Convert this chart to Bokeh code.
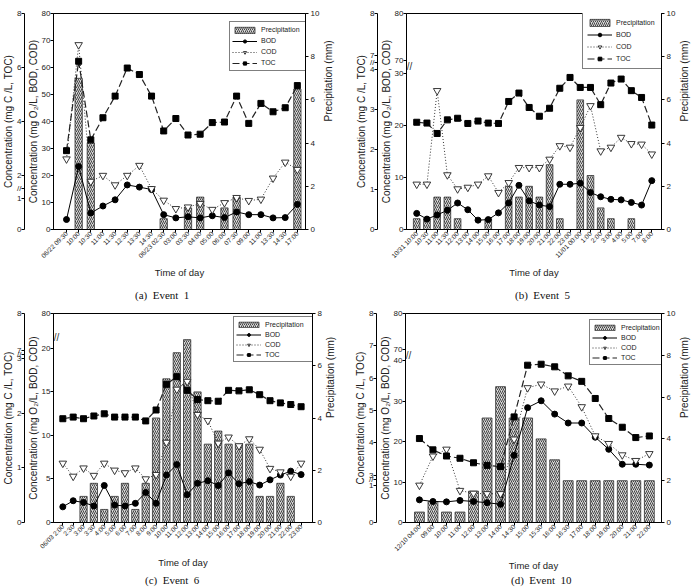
import numpy as np
from math import pi
from bokeh.plotting import figure
from bokeh.models import (Range1d, LinearAxis, FixedTicker, CustomJSTickFormatter,
                          Legend, LegendItem, Label, Div)
from bokeh.layouts import column, row
from bokeh.embed import file_html
from bokeh.resources import INLINE

FONT = "Liberation Sans"

# ---------------- data ----------------
labels_a = ["06/22 09:30", "10:00", "10:30", "11:00", "11:30", "12:30", "13:30", "14:30",
            "06/23 02:30", "03:00", "03:30", "04:00", "05:00", "06:00", "07:30", "09:00",
            "11:00", "13:30", "14:30", "17:00"]
prec_a = [0, 7.0, 4.0, 0, 0, 0, 0, 0, 0.5, 0, 1.0, 1.5, 0, 1.0, 1.5, 0, 0, 0, 0, 6.5]
bod_a = [3.7, 23.3, 6.1, 8.7, 11.0, 16.5, 15.7, 14.8, 5.5, 4.3, 4.7, 4.3, 5.1, 4.4, 6.5, 5.5,
         5.5, 4.3, 4.4, 9.3]
cod_a = [26.1, 68.4, 17.8, 20.0, 16.5, 20.0, 23.7, 15.1, 10.8, 7.7, 8.3, 9.6, 7.4, 9.9, 11.8,
         10.7, 11.2, 19.0, 24.9, 22.2]
toc_a = [2.92, 6.23, 3.32, 4.14, 4.94, 5.98, 5.74, 4.94, 3.65, 4.11, 3.50, 3.53, 3.96, 3.98,
         4.94, 3.93, 4.67, 4.36, 4.51, 5.33]

labels_b = ["10/31 10:00", "10:30", "11:00", "11:30", "12:00", "13:00", "14:00", "15:00",
            "16:00", "17:00", "18:00", "19:00", "20:00", "21:00", "22:00", "23:00",
            "11/01 00:00", "1:00", "2:00", "3:00", "4:00", "5:00", "7:00", "8:00"]
prec_b = [0.5, 0.5, 1.5, 1.5, 0.5, 0, 0, 0.5, 0, 2.0, 1.5, 2.0, 1.5, 3.0, 0.5, 0, 6.0, 2.5,
          1.0, 0.5, 0, 0.5, 0, 0]
bod_b = [3.1, 2.0, 2.8, 3.7, 5.1, 3.8, 1.8, 1.9, 3.2, 5.1, 8.5, 5.5, 4.7, 4.4, 8.7, 8.7, 8.9,
         7.1, 6.3, 5.8, 5.7, 5.2, 4.7, 9.4]
cod_b = [8.7, 8.7, 26.7, 10.5, 7.8, 8.1, 8.7, 10.3, 7.1, 9.0, 11.9, 11.9, 11.9, 13.5, 16.1,
         15.8, 19.6, 23.8, 15.1, 15.8, 17.7, 16.5, 16.4, 14.5]
toc_b = [2.68, 2.66, 2.40, 2.74, 2.78, 2.65, 2.71, 2.66, 2.65, 3.20, 3.41, 3.05, 2.83, 3.03,
         3.53, 3.80, 3.55, 3.55, 3.12, 3.66, 3.76, 3.47, 3.30, 2.61]

labels_c = ["06/03 2:00", "2:30", "3:00", "3:30", "4:00", "5:00", "6:00", "7:00", "8:00",
            "9:00", "10:00", "11:00", "12:00", "13:00", "14:00", "15:00", "16:00", "17:00",
            "18:00", "19:00", "20:00", "21:00", "22:00", "23:00"]
prec_c = [0, 0, 1.0, 1.5, 0.5, 1.0, 1.5, 0.5, 1.5, 4.0, 5.5, 6.5, 7.0, 5.0, 3.0, 3.5, 3.0,
          3.0, 3.0, 1.0, 1.0, 1.5, 1.0, 0]
bod_c = [1.8, 2.5, 2.3, 1.9, 4.25, 2.0, 1.9, 2.2, 3.45, 2.2, 5.45, 6.65, 3.2, 4.5, 4.8, 4.25,
         5.7, 4.45, 4.7, 4.3, 4.9, 5.45, 5.9, 5.5]
cod_c = [6.8, 5.3, 6.25, 5.4, 6.8, 6.0, 5.7, 6.25, 5.0, 5.5, 9.2, 15.3, 16.2, 12.4, 11.7, 9.1,
         9.8, 8.8, 9.6, 8.4, 6.2, 5.8, 5.3, 6.8]
toc_c = [1.90, 1.93, 1.90, 1.95, 1.99, 1.93, 1.93, 1.93, 1.86, 2.06, 2.53, 2.67, 2.42, 2.25,
         2.23, 2.22, 2.42, 2.41, 2.43, 2.34, 2.23, 2.19, 2.16, 2.12]

labels_d = ["12/10 04:00", "09:00", "10:00", "11:00", "12:00", "13:00", "14:00", "14:30",
            "15:00", "15:30", "16:00", "16:30", "17:00", "18:00", "19:00", "20:00", "21:00",
            "22:00"]
prec_d = [0.5, 1.0, 0.5, 0.5, 1.5, 5.0, 6.5, 5.0, 5.0, 4.0, 3.0, 2.0, 2.0, 2.0, 2.0, 2.0,
          2.0, 2.0]
bod_d = [5.6, 5.2, 5.1, 5.45, 5.2, 4.9, 4.5, 16.6, 28.4, 30.1, 26.8, 24.6, 24.6, 21.1, 18.1,
         14.4, 14.4, 14.2]
cod_d = [9.2, 16.4, 18.1, 7.9, 7.2, 7.1, 7.1, 20.6, 33.3, 34.2, 32.5, 33.7, 28.6, 21.4, 19.5,
         16.7, 15.3, 17.0]
toc_d = [4.13, 3.78, 3.59, 3.52, 3.38, 3.30, 3.26, 4.80, 6.40, 6.43, 6.35, 6.07, 5.90, 5.37,
         4.75, 4.48, 4.16, 4.21]

# broken-axis tick values
bod_ticks_a = [0, 10, 20, 30, 40, 50, 60, 70, 80]
toc_ticks_a = [0, 1, 2, 4, 6, 8]
bod_ticks_b = [0, 10, 20, 30, 70, 80]
toc_ticks_b = [0, 1, 2, 3, 4, 7, 8]
bod_ticks_c = [0, 5, 10, 15, 20, 80]
toc_ticks_c = [0, 1, 2, 3, 7, 8]
bod_ticks_d = [0, 10, 20, 30, 40, 70, 80]
toc_ticks_d = [0, 1, 3, 4, 5, 6, 7, 8]

captions = ["(a)  Event  1", "(b)  Event  5", "(c)  Event  6", "(d)  Event  10"]

FMT_CODE = """
let best = 0, d = 1e9;
for (let i = 0; i < pos.length; i++) {
  const dd = Math.abs(pos[i] - tick);
  if (dd < d) { d = dd; best = i; }
}
return labs[best];
"""


def style_axis(ax, font_size="8px", label_size="10px"):
    ax.axis_line_color = "black"
    ax.major_tick_line_color = "black"
    ax.minor_tick_line_color = None
    ax.major_tick_out = 3
    ax.major_tick_in = 0
    ax.major_label_text_font = FONT
    ax.major_label_text_font_size = font_size
    ax.major_label_text_color = "#222222"
    ax.axis_label_text_font = FONT
    ax.axis_label_text_font_size = label_size
    ax.axis_label_text_font_style = "normal"
    ax.axis_label_text_color = "#222222"
    ax.major_label_standoff = 0
    ax.axis_label_standoff = 0


def broken_axis(ax, ticks, bp_vals, bp_disp, breaks=()):
    pos = [float(np.interp(t, bp_vals, bp_disp)) for t in ticks]
    labs = [str(t) for t in ticks]
    for b in breaks:
        pos.append(float(b))
        labs.append("//")
    ax.ticker = FixedTicker(ticks=pos, minor_ticks=[])
    ax.formatter = CustomJSTickFormatter(args=dict(pos=pos, labs=labs), code=FMT_CODE)


def make_panel(labels, prec, bod, cod, toc, cfg):
    n = len(labels)
    x = list(range(n))
    p = figure(width=cfg["w"], height=cfg["h"], x_range=Range1d(*cfg["xr"]),
               y_range=Range1d(0, 100), output_backend="svg", toolbar_location=None,
               min_border_left=cfg["bl"], min_border_right=cfg["br"],
               min_border_top=cfg["bt"], min_border_bottom=cfg["bb"])
    p.extra_y_ranges = {"precip": Range1d(0, cfg["pmax"])}
    p.grid.visible = False
    p.outline_line_color = "black"
    p.outline_line_width = 1
    p.background_fill_color = "white"
    p.border_fill_color = "white"

    # x axis
    xa = p.xaxis[0]
    style_axis(xa, font_size="6.5px", label_size="9.5px")
    xa.ticker = FixedTicker(ticks=x, minor_ticks=[])
    xa.major_label_overrides = {i: lab for i, lab in enumerate(labels)}
    xa.major_label_orientation = pi / 4
    xa.major_label_standoff = 0
    xa.axis_label = "Time of day"
    xa.axis_label_standoff = 2

    # inner left axis (BOD, COD)
    ya = p.yaxis[0]
    style_axis(ya)
    ya.axis_label = "Concentration (mg O\u2082/L, BOD, COD)"
    broken_axis(ya, cfg["bod_ticks"], *cfg["bod_map"])

    # outer left axis (TOC)
    yo = LinearAxis()
    style_axis(yo)
    yo.axis_label = "Concentration (mg C /L, TOC)"
    broken_axis(yo, cfg["toc_ticks"], *cfg["toc_map"], breaks=cfg["outer_breaks"])
    p.add_layout(yo, "left")

    # right axis (precipitation)
    yr = LinearAxis(y_range_name="precip")
    style_axis(yr)
    yr.major_label_standoff = 2
    yr.axis_label = "Precipitation (mm)"
    yr.axis_label_standoff = 6
    yr.ticker = FixedTicker(ticks=list(range(0, int(cfg["pmax"]) + 1, 2)), minor_ticks=[])
    try:
        yr.axis_label_orientation = pi / 2
    except Exception:
        pass
    p.add_layout(yr, "right")

    # bars
    bx = [i for i in x if prec[i] > 0]
    btop = [prec[i] for i in bx]
    bars = p.vbar(x=bx, top=btop, width=cfg["bw"], y_range_name="precip",
                  fill_color="#d8d8d8", line_color="#333333", line_width=0.8,
                  hatch_pattern="/", hatch_color="#444444", hatch_scale=4, hatch_weight=1)

    bvals, bdisp = cfg["bod_map"]
    tvals, tdisp = cfg["toc_map"]
    bod_y = np.interp(bod, bvals, bdisp)
    cod_y = np.interp(cod, bvals, bdisp)
    toc_y = np.interp(toc, tvals, tdisp)

    l1 = p.line(x, bod_y, line_color="black", line_width=1)
    s1 = p.scatter(x, bod_y, marker="circle", size=6, fill_color="black", line_color="black")
    l2 = p.line(x, cod_y, line_color="#333333", line_width=1, line_dash="1 2")
    s2 = p.scatter(x, cod_y, marker="inverted_triangle", size=7.5, fill_color="white",
                   line_color="#222222", line_width=0.9)
    l3 = p.line(x, toc_y, line_color="#222222", line_width=1.2, line_dash="7 3")
    s3 = p.scatter(x, toc_y, marker="square", size=6, fill_color="black", line_color="black")

    # legend (top-right corner inside the frame)
    lg = cfg["legend"]
    fw = cfg["w"] - cfg["bl"] - cfg["br"]
    fh = cfg["h"] - cfg["bt"] - cfg["bb"]
    rows_h = 4 * lg["rh"] + 2 * lg["pad"]
    lx = fw - lg["W"]
    ly = fh - lg["top"] - rows_h
    lw = lg["W"] - 2 * lg["pad"] - 25 - 4
    legend = Legend(items=[LegendItem(label="Precipitation", renderers=[bars]),
                           LegendItem(label="BOD", renderers=[l1, s1]),
                           LegendItem(label="COD", renderers=[l2, s2]),
                           LegendItem(label="TOC", renderers=[l3, s3])],
                    location=(lx, ly), orientation="vertical",
                    border_line_color="black", border_line_width=1,
                    background_fill_color="white", background_fill_alpha=1.0,
                    label_text_font=FONT, label_text_font_size="7px",
                    label_text_color="#222222",
                    glyph_width=25, glyph_height=lg["rh"] - 3, label_height=lg["rh"],
                    label_width=lw, spacing=0, padding=lg["pad"], margin=0,
                    label_standoff=4)
    p.add_layout(legend, "center")

    # break marks on the inner axis (just inside the frame edge)
    for yv in cfg["inner_breaks"]:
        p.add_layout(Label(x=3, y=yv, x_units="screen", y_units="data", text="//",
                           text_font=FONT, text_font_size="10px",
                           text_align="center", text_baseline="middle",
                           text_color="#333333"))
    return p


def caption_div(text, center, height):
    left = max(center - 30, 0)
    return Div(text=text.replace(" ", "&nbsp;"), width=349, height=height,
               margin=(0, 0, 0, 0),
               styles={"font-family": "Liberation Serif", "font-size": "11px",
                       "color": "#111111", "padding-left": f"{left}px",
                       "line-height": f"{height}px", "white-space": "nowrap",
                       "overflow": "hidden"})


cfg_a = dict(w=349, h=288, xr=(-1.07, 19.67), bl=52, br=44, bt=13, bb=57, pmax=10, bw=0.6,
             bod_ticks=bod_ticks_a, toc_ticks=toc_ticks_a,
             bod_map=([0, 80], [0, 100]), toc_map=([0, 1, 2, 8], [0, 14.2, 25, 100]),
             legend=dict(W=77, top=12, rh=11, pad=2),
             inner_breaks=[], outer_breaks=[19.0])
cfg_b = dict(w=349, h=288, xr=(-1.0, 23.95), bl=57, br=36, bt=13, bb=59, pmax=10, bw=0.65,
             bod_ticks=bod_ticks_b, toc_ticks=toc_ticks_b,
             bod_map=([0, 30, 70, 80], [0, 72.2, 78.1, 100]),
             toc_map=([0, 4, 7, 8], [0, 74.1, 80.4, 100]),
             legend=dict(W=80, top=0, rh=12, pad=4),
             inner_breaks=[75.6], outer_breaks=[77.3])
cfg_c = dict(w=349, h=272, xr=(-0.9, 24.1), bl=52, br=37, bt=11, bb=52, pmax=8, bw=0.7,
             bod_ticks=bod_ticks_c, toc_ticks=toc_ticks_c,
             bod_map=([0, 20, 80], [0, 83.3, 100]),
             toc_map=([0, 3, 7, 8], [0, 78.4, 82.5, 100]),
             legend=dict(W=80, top=5, rh=10, pad=2),
             inner_breaks=[88.5], outer_breaks=[80.4])
cfg_d = dict(w=349, h=272, xr=(-1.03, 17.9), bl=56, br=35, bt=6, bb=52, pmax=10, bw=0.73,
             bod_ticks=bod_ticks_d, toc_ticks=toc_ticks_d,
             bod_map=([0, 40, 70, 80], [0, 77.4, 82.7, 100]),
             toc_map=([0, 1, 3, 8], [0, 17.9, 22.7, 100]),
             legend=dict(W=74, top=13, rh=10, pad=2),
             inner_breaks=[80.0], outer_breaks=[20.6])

pa = make_panel(labels_a, prec_a, bod_a, cod_a, toc_a, cfg_a)
pb = make_panel(labels_b, prec_b, bod_b, cod_b, toc_b, cfg_b)
pc = make_panel(labels_c, prec_c, bod_c, cod_c, toc_c, cfg_c)
pd = make_panel(labels_d, prec_d, bod_d, cod_d, toc_d, cfg_d)

cap_a = caption_div(captions[0], 165, 14)
cap_b = caption_div(captions[1], 196, 14)
cap_c = caption_div(captions[2], 175, 13)
cap_d = caption_div(captions[3], 192, 13)

layout = column(row(pa, pb), row(cap_a, cap_b), row(pc, pd), row(cap_c, cap_d),
                spacing=0)
open("out.html", "w").write(file_html(layout, INLINE))
